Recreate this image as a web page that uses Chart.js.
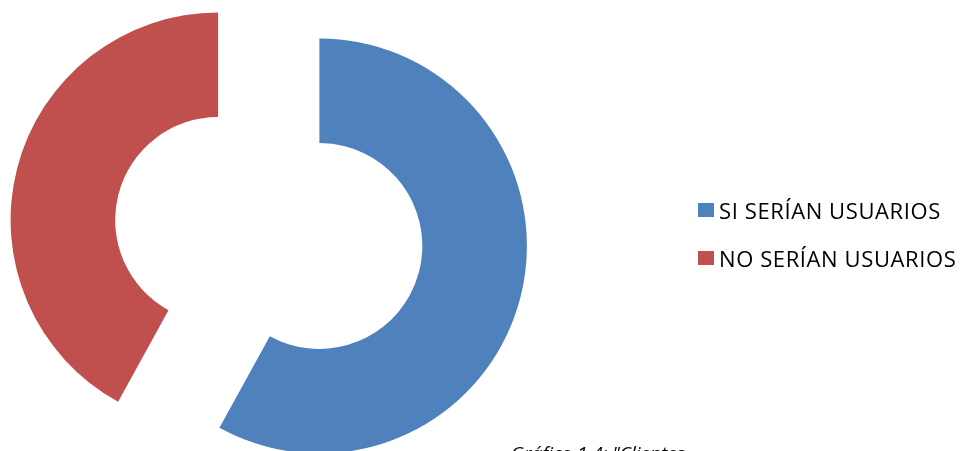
<!DOCTYPE html>
<html>
<head>
<meta charset="utf-8">
<script src="https://cdn.jsdelivr.net/npm/chart.js@4.4.1/dist/chart.umd.min.js"></script>
<style>
  html, body { margin: 0; padding: 0; background: #fff; overflow: hidden; }
  #wrap { position: relative; width: 965px; height: 451px; overflow: hidden; }
  #chart { position: absolute; left: 0; top: 0; }
  #legend { position: absolute; left: 698px; top: 197px; font-family: "Open Sans", sans-serif; font-size: 22px; letter-spacing: 0.6px; color: #000; }
  #legend .item { display: flex; align-items: center; height: 26px; line-height: 26px; margin-bottom: 22px; white-space: nowrap; }
  #legend .box { width: 16px; height: 14px; margin-right: 5px; }
  #caption { position: absolute; left: 511px; top: 440px; font-family: "Open Sans", sans-serif; font-style: italic; font-size: 19px; white-space: nowrap; }
</style>
</head>
<body>
<div id="wrap">
  <canvas id="chart" width="965" height="451"></canvas>
  <div id="legend"></div>
  <div id="caption">Gráfico 1.4: "Clientes</div>
</div>
<script>
const labels = ['SI SERÍAN USUARIOS', 'NO SERÍAN USUARIOS'];
const values = [58, 42];
const colors = ['#4F81BD', '#C0504D'];

// pull each slice out along its middle angle (px), like the exploded excel donut
const explodePlugin = {
    id: 'explode',
    afterDatasetUpdate(chart, args, opts) {
        const meta = chart.getDatasetMeta(args.index);
        meta.data.forEach(arc => {
            const mid = (arc.startAngle + arc.endAngle) / 2;
            arc.x += Math.cos(mid) * opts.distance;
            arc.y += Math.sin(mid) * opts.distance;
        });
    }
};

const legendEl = document.getElementById('legend');
labels.forEach((lab, i) => {
    const item = document.createElement('div');
    item.className = 'item';
    item.innerHTML = '<span class="box" style="background:' + colors[i] + '"></span><span>' + lab + '</span>';
    legendEl.appendChild(item);
});

const ctx = document.getElementById('chart');
new Chart(ctx, {
    type: 'doughnut',
    plugins: [explodePlugin],
    data: {
        labels: labels,
        datasets: [{
            data: values,
            backgroundColor: colors,
            borderWidth: 0,
            hoverOffset: 0
        }]
    },
    options: {
        responsive: false,
        animation: false,
        radius: 207.5,
        cutout: '49.6%',
        layout: {
            padding: { left: 0, right: 427.5, top: 15, bottom: 0 }
        },
        plugins: {
            legend: { display: false },
            tooltip: { enabled: false },
            explode: { distance: 52.3 }
        }
    }
});
</script>
</body>
</html>
